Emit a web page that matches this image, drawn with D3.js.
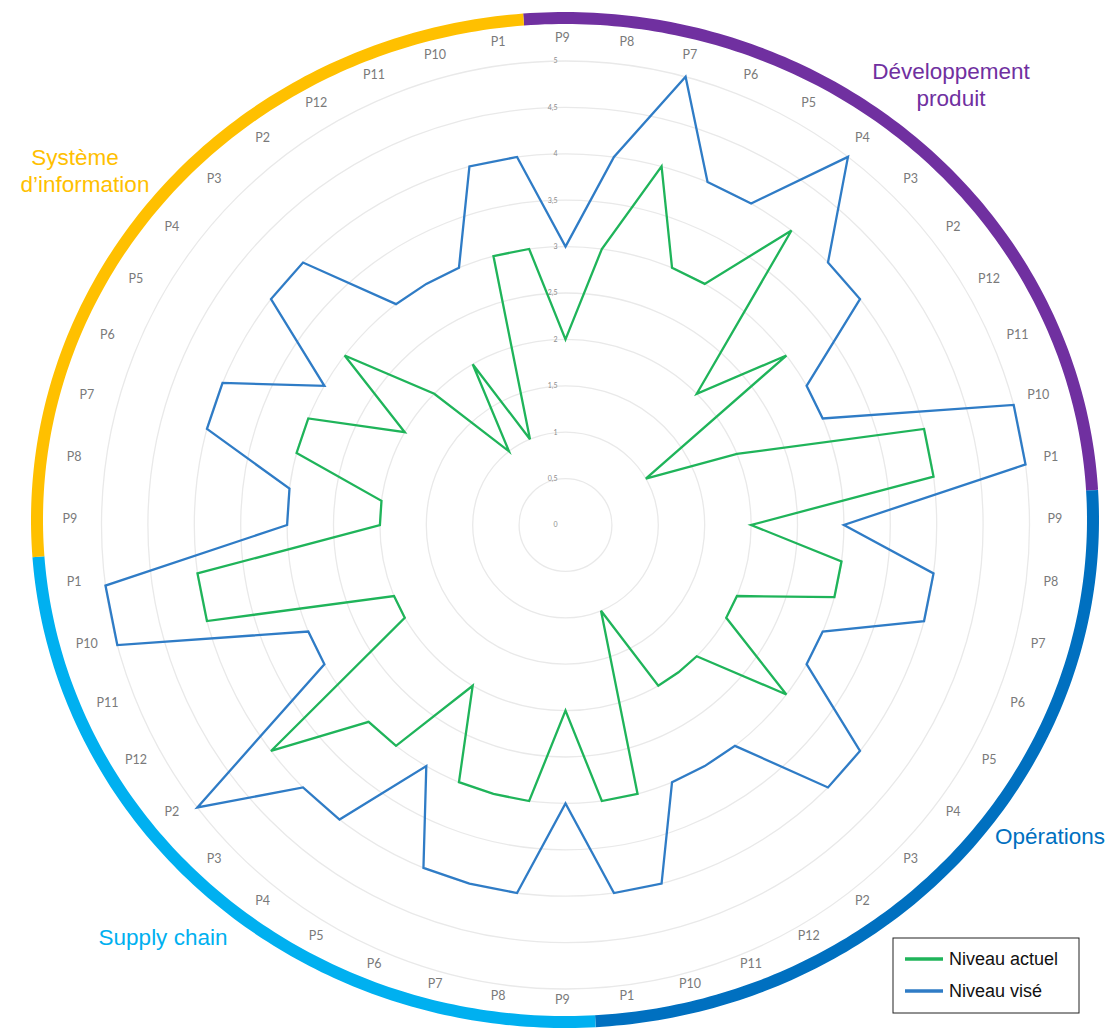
<!DOCTYPE html>
<html>
<head>
<meta charset="utf-8">
<script src="https://cdn.jsdelivr.net/npm/d3@7"></script>
<style>
  body { margin: 0; background: #fff; }
  svg { display: block; }
</style>
</head>
<body>
<div class="chart"></div>
<script>
// Data
var groups = ["Développement produit", "Opérations", "Supply chain", "Système d’information"];
var groupColors = ["#7030A0", "#0070C0", "#00B0F0", "#FFC000"];
var criteria = ["P9", "P8", "P7", "P6", "P5", "P4", "P3", "P2", "P12", "P11", "P10", "P1"];
var radialTicks = [0, 0.5, 1, 1.5, 2, 2.5, 3, 3.5, 4, 4.5, 5];

var niveauActuel = [
  2, 3, 4, 3, 3, 4, 2, 3, 1, 2, 4, 4,
  2, 3, 3, 2, 2, 3, 2, 2, 2, 1, 3, 3,
  2, 3, 3, 3, 2, 3, 3, 4, 2, 2, 4, 4,
  2, 2, 3, 3, 2, 3, 2, 1, 2, 1, 3, 3
];
var niveauVise = [
  3, 4, 5, 4, 4, 5, 4, 4, 3, 3, 5, 5,
  3, 4, 4, 3, 3, 4, 4, 3, 3, 3, 4, 4,
  3, 4, 4, 4, 3, 4, 4, 5, 3, 3, 5, 5,
  3, 3, 4, 4, 3, 4, 4, 3, 3, 3, 4, 4
];

var svgWidth = 1111;
var svgHeight = 1030;

var cx = 565.5, cy = 525;
var maxR = 464;

var svg = d3.select(".chart")
  .append("svg")
  .attr("width", svgWidth)
  .attr("height", svgHeight);

// one axis per criterion of each group
var axes = [];
groups.forEach(function(g, gi) {
  criteria.forEach(function(c) {
    axes.push({ group: gi, label: c });
  });
});
var n = axes.length;

var angle = d3.scaleLinear().domain([0, n]).range([0, 2 * Math.PI]);
var rScale = d3.scaleLinear().domain([0, 5]).range([0, maxR]);

var chartGroup = svg.append("g")
  .attr("transform", `translate(${cx}, ${cy})`);

// grid circles
chartGroup.selectAll("circle.grid")
  .data(radialTicks.slice(1))
  .enter()
  .append("circle")
  .attr("class", "grid")
  .attr("r", d => rScale(d))
  .attr("fill", "none")
  .attr("stroke", "#e9e9e9")
  .attr("stroke-width", 1.3);

// scale labels
chartGroup.selectAll("text.tick")
  .data(radialTicks)
  .enter()
  .append("text")
  .attr("class", "tick")
  .attr("x", -8)
  .attr("y", d => -rScale(d))
  .attr("dy", "0.35em")
  .attr("text-anchor", "end")
  .attr("font-family", "Lato, sans-serif")
  .attr("font-size", "7px")
  .attr("fill", "#8c8c8c")
  .text(d => String(d).replace(".", ","));

// series lines
var radarLine = d3.lineRadial()
  .angle((d, i) => angle(i))
  .radius(d => rScale(d))
  .curve(d3.curveLinearClosed);

chartGroup.append("path")
  .datum(niveauVise)
  .attr("d", radarLine)
  .attr("fill", "none")
  .attr("stroke", "#2F7CC6")
  .attr("stroke-width", 2.3)
  .attr("stroke-linejoin", "miter");

chartGroup.append("path")
  .datum(niveauActuel)
  .attr("d", radarLine)
  .attr("fill", "none")
  .attr("stroke", "#1FB45A")
  .attr("stroke-width", 2.3)
  .attr("stroke-linejoin", "miter");

// category labels (on a slightly elliptical ring)
var lab = { cx: 562.5, cy: 519, rx: 492.5, ry: 481 };
svg.selectAll("text.cat")
  .data(axes)
  .enter()
  .append("text")
  .attr("class", "cat")
  .attr("x", (d, i) => lab.cx + lab.rx * Math.sin(angle(i)))
  .attr("y", (d, i) => lab.cy - lab.ry * Math.cos(angle(i)))
  .attr("dy", "0.35em")
  .attr("text-anchor", "middle")
  .attr("font-family", "Lato, sans-serif")
  .attr("font-size", "12.5px")
  .attr("fill", "#7a7a7a")
  .text(d => d.label);

// outer coloured ring, one arc per group
var ring = { cx: 565, cy: 520, rx: 528, ry: 502 };
var ringBounds = [-4.5, 86.6, 176.7, 265.8, 355.5]; // degrees
var ringLine = d3.line()
  .x(t => ring.cx + ring.rx * Math.sin(t))
  .y(t => ring.cy - ring.ry * Math.cos(t));

groups.forEach(function(g, gi) {
  var start = ringBounds[gi] * Math.PI / 180;
  var end = ringBounds[gi + 1] * Math.PI / 180;
  var pts = d3.range(0, 121).map(k => start + (end - start) * k / 120);
  svg.append("path")
    .attr("d", ringLine(pts))
    .attr("fill", "none")
    .attr("stroke", groupColors[gi])
    .attr("stroke-width", 12);
});

// group titles
var titles = [
  { lines: ["Développement", "produit"], x: [951, 951], y: 71 },
  { lines: ["Opérations"], x: [1050], y: 836 },
  { lines: ["Supply chain"], x: [163], y: 937 },
  { lines: ["Système", "d’information"], x: [75, 85], y: 157 }
];
titles.forEach(function(t, gi) {
  var txt = svg.append("text")
    .attr("font-family", "'Liberation Sans', Arial, sans-serif")
    .attr("font-size", "22.5px")
    .attr("fill", groupColors[gi])
    .attr("text-anchor", "middle");
  t.lines.forEach(function(l, li) {
    txt.append("tspan")
      .attr("x", t.x[li])
      .attr("y", t.y + li * 27)
      .attr("dy", "0.35em")
      .text(l);
  });
});

// legend
var series = [
  { name: "Niveau actuel", color: "#1FB45A" },
  { name: "Niveau visé", color: "#2F7CC6" }
];
var legend = svg.append("g")
  .attr("transform", "translate(893, 938)");
legend.append("rect")
  .attr("width", 186)
  .attr("height", 75)
  .attr("fill", "#fff")
  .attr("stroke", "#222")
  .attr("stroke-width", 1);
var items = legend.selectAll("g.item")
  .data(series)
  .enter()
  .append("g")
  .attr("class", "item")
  .attr("transform", (d, i) => `translate(0, ${21 + i * 32})`);
items.append("line")
  .attr("x1", 12)
  .attr("x2", 50)
  .attr("stroke", d => d.color)
  .attr("stroke-width", 3.5);
items.append("text")
  .attr("x", 56)
  .attr("dy", "0.35em")
  .attr("font-family", "'Liberation Sans', Arial, sans-serif")
  .attr("font-size", "18px")
  .attr("fill", "#111")
  .text(d => d.name);
</script>
</body>
</html>
